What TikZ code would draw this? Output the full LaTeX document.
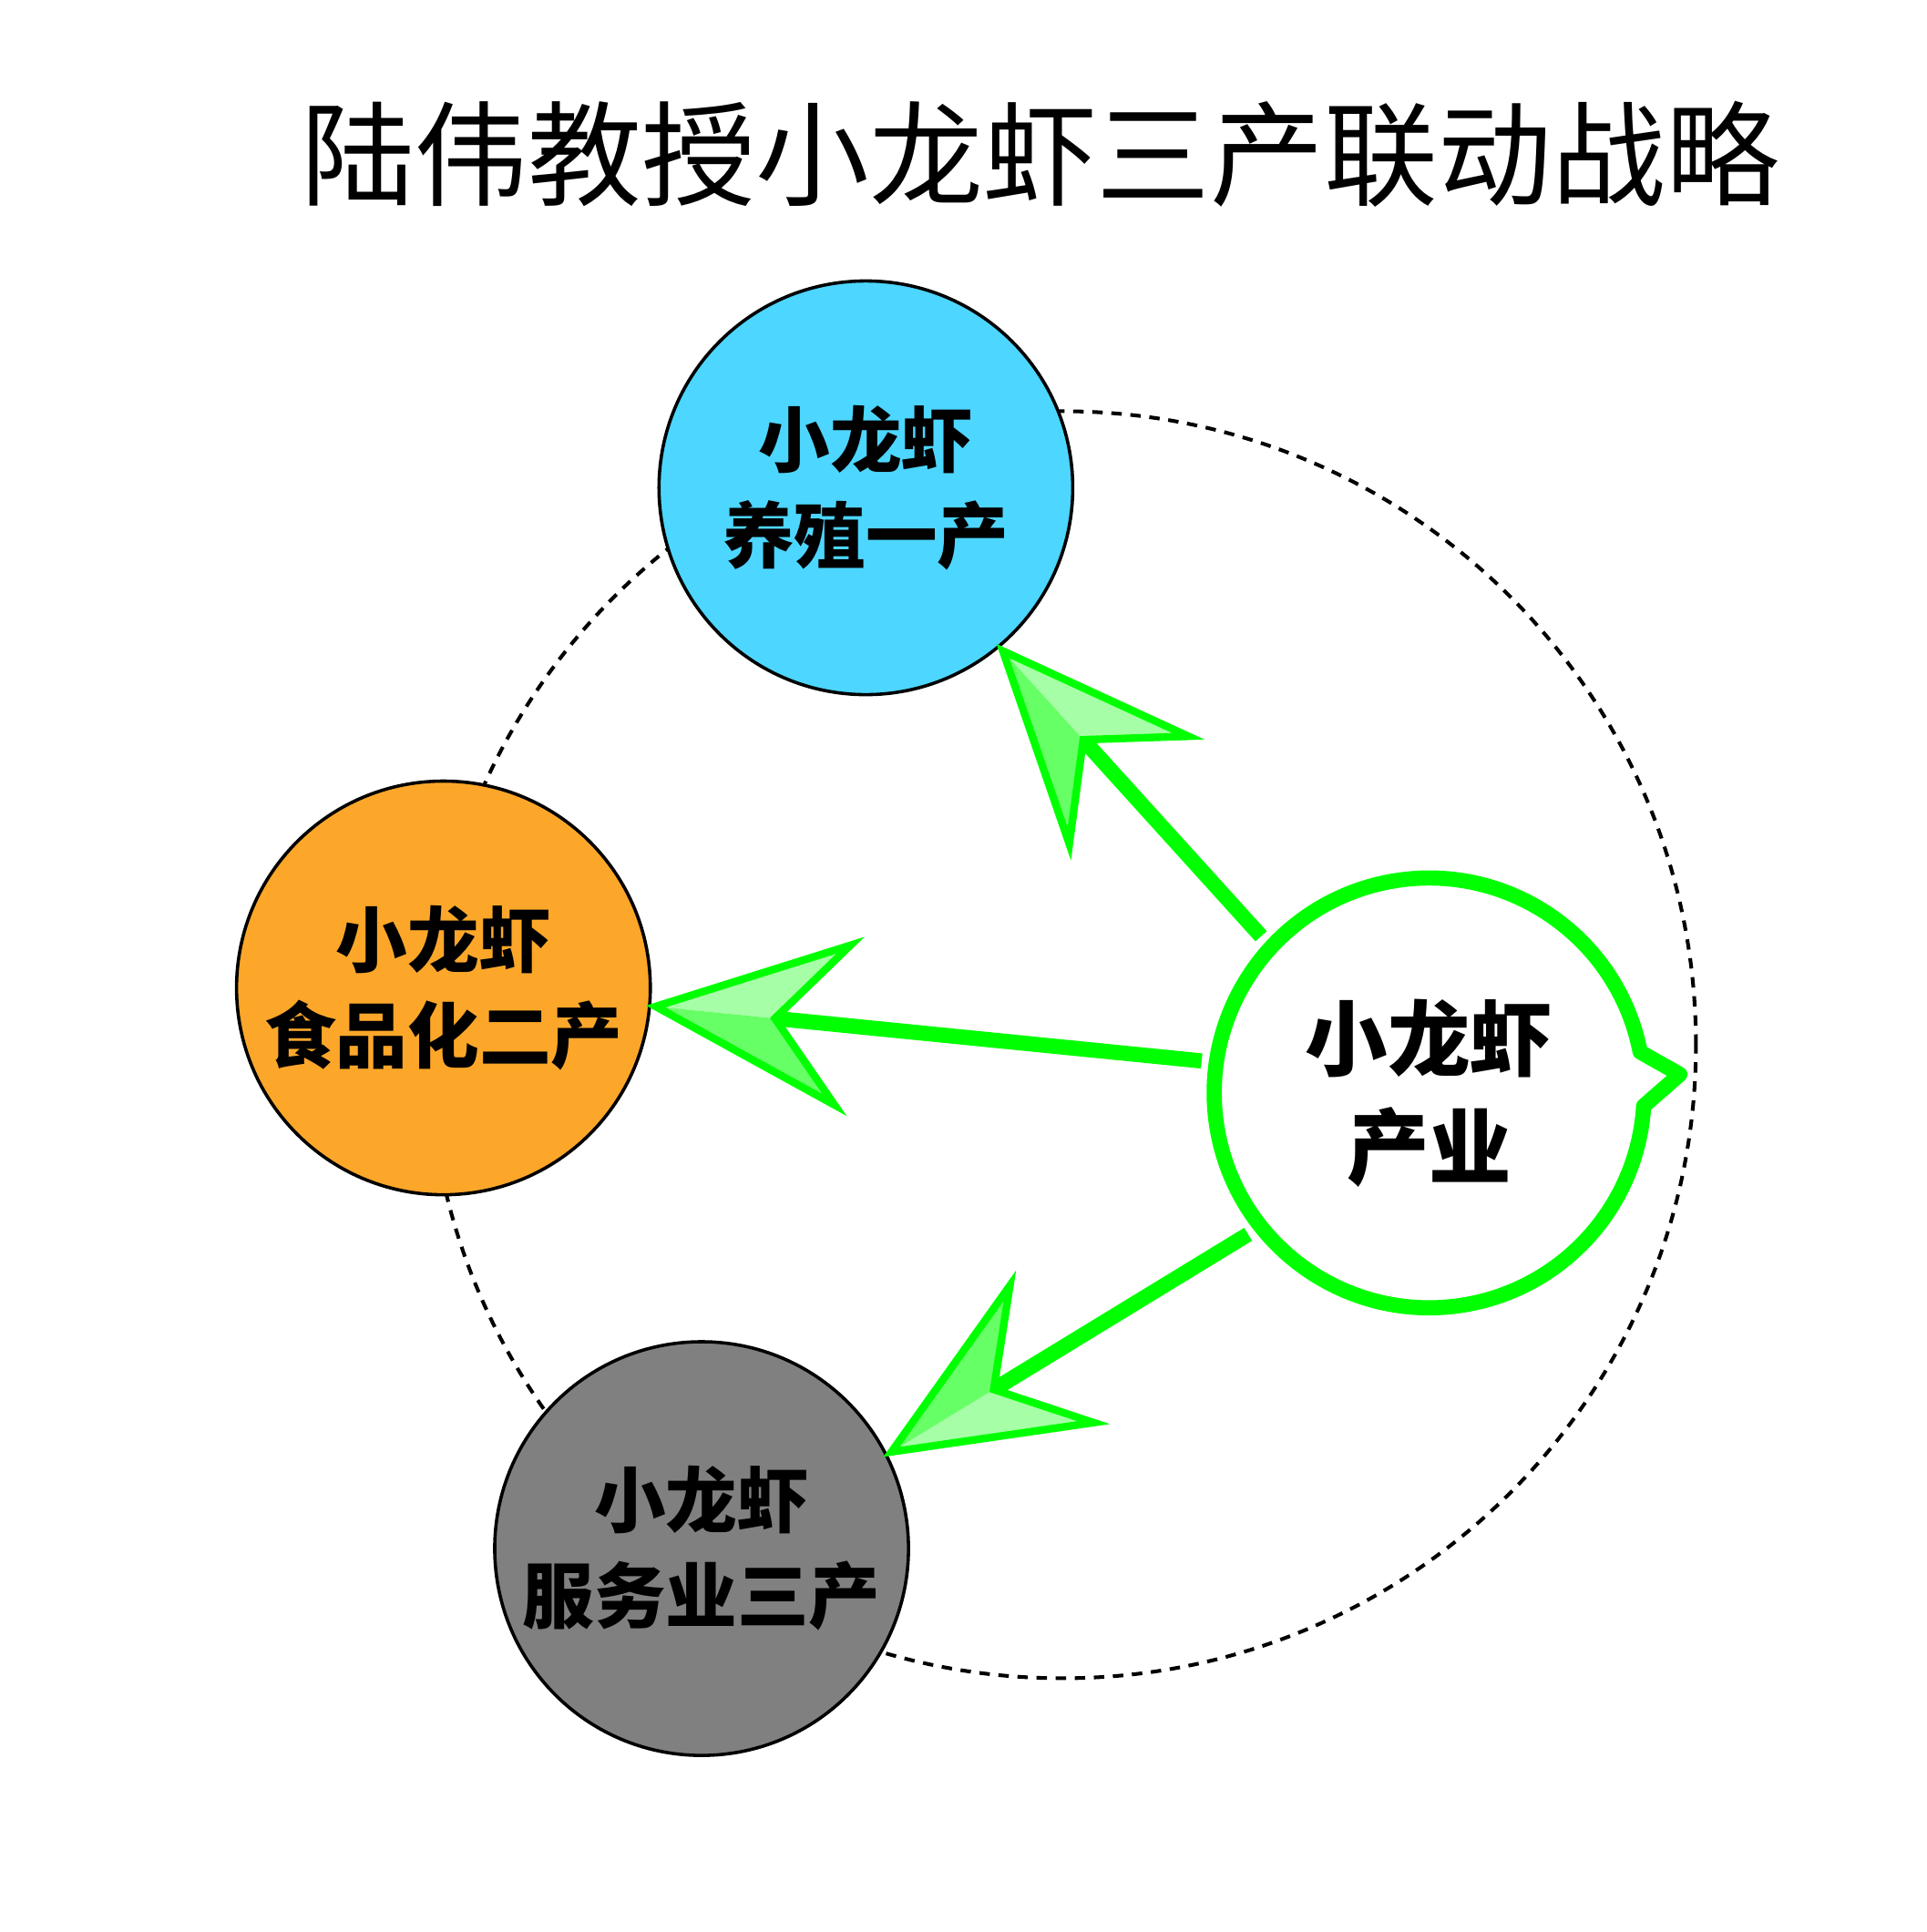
\documentclass[tikz,border=0pt]{standalone}
\usepackage{fontspec}
\newfontfamily\cjk{Noto Sans CJK SC}
\usetikzlibrary{calc}

\definecolor{quancyan}{RGB}{77,214,255}
\definecolor{quanorange}{RGB}{252,167,42}
\definecolor{quangray}{RGB}{128,128,128}
\definecolor{lvse}{RGB}{0,255,0}
\definecolor{lvqian}{RGB}{166,255,166}
\definecolor{lvzhong}{RGB}{102,255,102}

\tikzset{
  chan/.style={circle, draw=black, line width=0.75pt, minimum size=3.35cm, inner sep=0pt,
    outer sep=0.05cm, align=center, font=\cjk\bfseries\fontsize{16.5}{22}\selectfont},
  shaft/.style={draw=lvse, line width=3.5pt},
  kiteline/.style={draw=lvse, line width=1.75pt, line join=miter},
}

% big green arrow: from node #1 to node #2, light half on side #3
\newcommand\kitearrow[4]{%
  \path (#1) -- (#2) coordinate[pos=0] (ks) coordinate[pos=1] (kt);
  \coordinate (kn) at ($(kt)!0.97cm!(ks)$);
  \coordinate (kb) at ($(kt)!1.52cm!(ks)$);
  \coordinate (kq) at ($(kb)!0.65cm!#3:(kt)$);
  \coordinate (kz) at ($(kb)!0.65cm!#4:(kt)$);
  \draw[shaft] (ks) -- (kn);
  \fill[lvqian] (kt) -- (kq) -- (kn) -- cycle;
  \fill[lvzhong] (kt) -- (kz) -- (kn) -- cycle;
  \draw[kiteline] (kt) -- (kq) -- (kn) -- (kz) -- cycle;
}

\begin{document}
\begin{tikzpicture}
  \useasboundingbox (0,0) rectangle (15.60,-15.645);

  \node (biaoti) at (8.42,-1.25) {\cjk\fontsize{26.2}{30}\selectfont 陆伟教授小龙虾三产联动战略};

  \draw[line width=0.85pt, dash pattern=on 2.4pt off 2pt] (8.60,-8.46) circle[radius=5.13];

  \node[chan, fill=quancyan] (yi) at (7.01,-3.95) {小龙虾\\养殖一产};
  \node[chan, fill=quanorange] (er) at (3.59,-8.00) {小龙虾\\食品化二产};
  \node[chan, fill=quangray] (san) at (5.68,-12.54) {小龙虾\\服务业三产};

  \node[circle, minimum size=3.5cm, outer sep=0.11cm] (chanye) at (11.57,-8.85) {};
  \begin{scope}[shift={(chanye.center)}]
    \draw[lvse, fill=white, line width=3.5pt, line join=round]
      (11:1.74) arc[start angle=11, end angle=356.5, radius=1.74] -- (2.03,0.15) -- cycle;
  \end{scope}
  \node[align=center, font=\cjk\bfseries\fontsize{19}{25}\selectfont] (chanyetext) at (chanye) {小龙虾\\产业};

  \kitearrow{chanye.137}{yi.310}{-90}{90}
  \kitearrow{chanye.172}{er.355}{-90}{90}
  \kitearrow{chanye.218}{san.27}{90}{-90}

\end{tikzpicture}
\end{document}
